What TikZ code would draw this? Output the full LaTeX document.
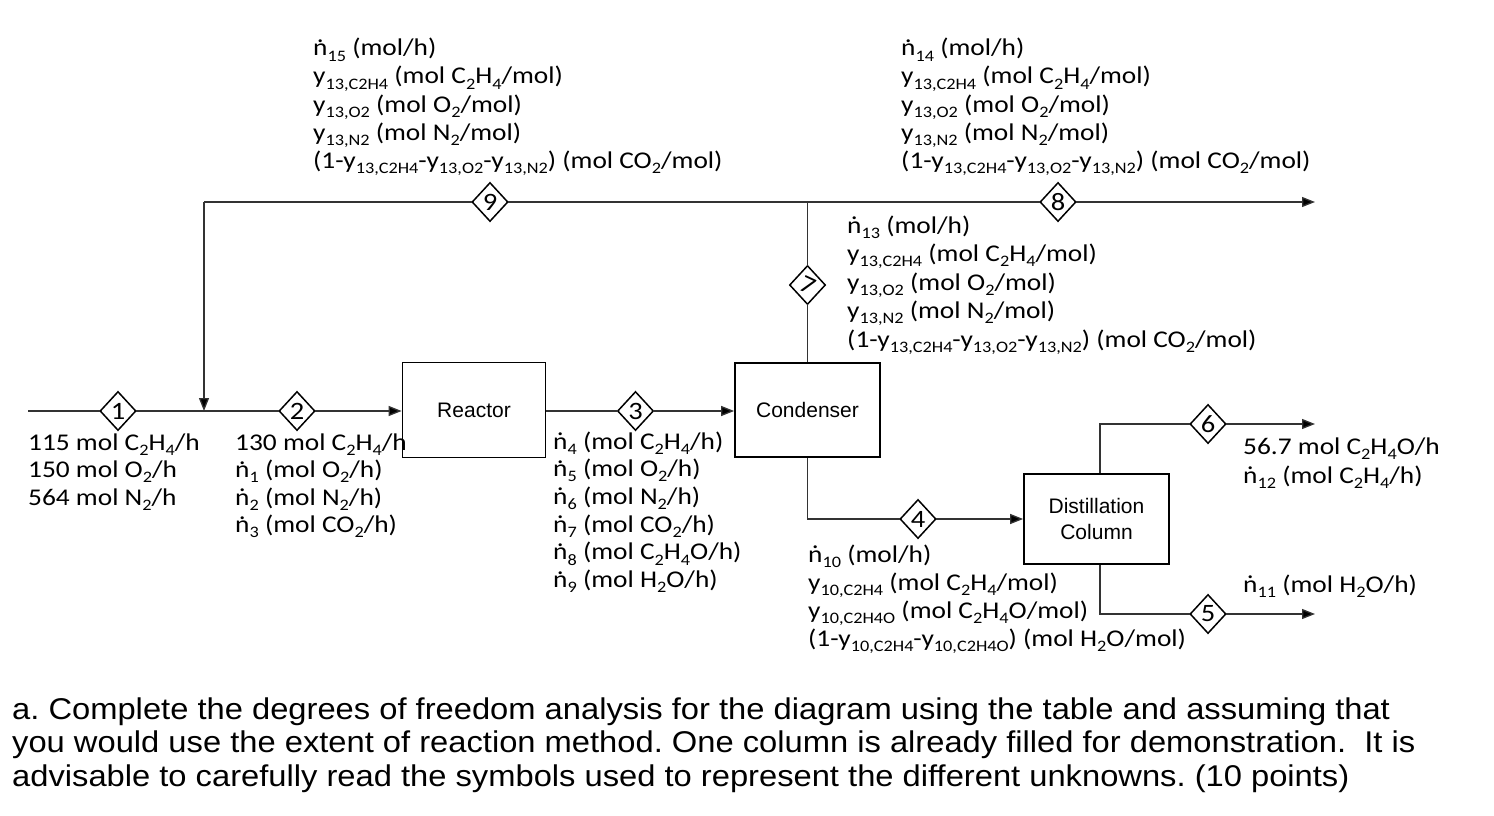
\documentclass[tikz,border=0pt]{standalone}
\usepackage{fontspec}
\setmainfont{Carlito}[FakeStretch=1.14]
\newfontfamily\arialf{Liberation Sans}
\newfontfamily\parf{Liberation Sans}[FakeStretch=1.09]
\usetikzlibrary{arrows.meta}
\newcommand\sub[1]{\raisebox{-0.22em}{\fontsize{16}{16}\selectfont #1}}
\newcommand\nd{\leavevmode\rlap{\hbox to \fontcharwd\font`n{\hss\raisebox{0.56em}{.}\hss}}n}
\newcommand\blk[5]{\foreach \txt [count=\i] in {#5}{\node[lbl] (#1\i) at (#2,{#3+(\i-1)*#4}) {\txt};}}
\newcommand\strnum[3]{%
  \node[snbox] (#1) at (#2) {};
  \draw[snline] (#1.north) -- (#1.east) -- (#1.south) -- (#1.west) -- cycle;
  \node[sntext] (#1t) at (#1) {#3};}
\tikzset{
  lbl/.style={anchor=base west, inner sep=0pt, font=\fontsize{24}{27}\selectfont},
  par/.style={anchor=base west, inner sep=0pt, font=\parf\frenchspacing\fontsize{30}{33}\selectfont},
  flow/.style={draw=black!80, line width=1.3pt},
  arr/.style={flow, -{Triangle[length=13pt,width=10pt,fill=black]}},
  unit/.style={draw=black, line width=1.8pt, fill=white, align=center, inner sep=0pt,
    font=\arialf\fontsize{21}{26}\selectfont},
  snbox/.style={rectangle, inner sep=0pt, minimum width=35pt, minimum height=38pt},
  snline/.style={draw=black, line width=1.5pt, fill=white, line join=miter},
  sntext/.style={inner sep=0pt, font=\fontsize{25}{25}\selectfont}
}
\begin{document}
\begin{tikzpicture}[x=1pt,y=-1pt]
\useasboundingbox[fill=white] (0,0) rectangle (1494,816);

% unit operations
\node[unit, minimum width=143pt, minimum height=95pt] (reactor) at (474,410) {Reactor};
\node[unit, minimum width=145pt, minimum height=94pt] (cond) at (807.5,410) {Condenser};
\node[unit, minimum width=145pt, minimum height=90pt] (dist) at (1096.5,519) {Distillation\\Column};

% coordinates
\coordinate (in1) at (28,411);
\coordinate (j1) at (204,411);
\coordinate (jt1) at (204,202);
\coordinate (jt2) at (807.5,202);
\coordinate (out8) at (1315,202);
\coordinate (cb) at (807.5,519);
\coordinate (dt) at (1100,424);
\coordinate (db) at (1100,614);
\coordinate (out6) at (1315,424);
\coordinate (out5) at (1315,614);

% stream numbers
\strnum{d1}{118,411}{1}
\strnum{d2}{297,411}{2}
\strnum{d3}{635.5,411}{3}
\strnum{d4}{918,519}{4}
\strnum{d5}{1208,614}{5}
\strnum{d6}{1208,424}{6}
\strnum{d7}{807.5,285}{\rotatebox{-25}{7}}
\strnum{d8}{1058,202}{8}
\strnum{d9}{490,202}{9}

% connectors
\draw[flow] (in1) -- (d1);
\draw[flow] (d1) -- (j1);
\draw[arr] (d2) -- (d2 -| reactor.west);
\draw[flow] (j1) -- (d2);
\draw[arr] (jt1) -- (j1);
\draw[flow] (jt1) -- (d9);
\draw[flow] (d9) -- (jt2) -- (d8);
\draw[arr] (d8) -- (out8);
\draw[flow] (cond.north) -- (d7);
\draw[flow] (d7) -- (jt2);
\draw[flow] (reactor.east |- d3) -- (d3);
\draw[arr] (d3) -- (d3 -| cond.west);
\draw[flow] (cond.south) -- (cb) -- (d4);
\draw[arr] (d4) -- (d4 -| dist.west);
\draw[flow] (dt |- dist.north) -- (dt) -- (d6);
\draw[arr] (d6) -- (out6);
\draw[flow] (db |- dist.south) -- (db) -- (d5);
\draw[arr] (d5) -- (out5);

% stream labels
\blk{sa}{28}{450}{27.5}{{115 mol C\sub2H\sub4/h},{150 mol O\sub2/h},{564 mol N\sub2/h}}
\blk{sb}{235}{450}{27.5}{{130 mol C\sub2H\sub4/h},{\nd\sub1 (mol O\sub2/h)},{\nd\sub2 (mol N\sub2/h)},{\nd\sub3 (mol CO\sub2/h)}}
\blk{sc}{553}{449}{27.7}{{\nd\sub4 (mol C\sub2H\sub4/h)},{\nd\sub5 (mol O\sub2/h)},{\nd\sub6 (mol N\sub2/h)},{\nd\sub7 (mol CO\sub2/h)},{\nd\sub8 (mol C\sub2H\sub4O/h)},{\nd\sub9 (mol H\sub2O/h)}}
\blk{sd}{808}{562}{28.2}{{\nd\sub{10} (mol/h)},{y\sub{10,C2H4} (mol C\sub2H\sub4/mol)},{y\sub{10,C2H4O} (mol C\sub2H\sub4O/mol)},{(1-y\sub{10,C2H4}-y\sub{10,C2H4O}) (mol H\sub2O/mol)}}
\blk{se}{1243}{454}{29}{{56.7 mol C\sub2H\sub4O/h},{\nd\sub{12} (mol C\sub2H\sub4/h)}}
\blk{sf}{1243}{592}{28}{{\nd\sub{11} (mol H\sub2O/h)}}
\blk{sg}{847}{233}{28.5}{{\nd\sub{13} (mol/h)},{y\sub{13,C2H4} (mol C\sub2H\sub4/mol)},{y\sub{13,O2} (mol O\sub2/mol)},{y\sub{13,N2} (mol N\sub2/mol)},{(1-y\sub{13,C2H4}-y\sub{13,O2}-y\sub{13,N2}) (mol CO\sub2/mol)}}
\blk{sh}{901}{56}{28}{{\nd\sub{14} (mol/h)},{y\sub{13,C2H4} (mol C\sub2H\sub4/mol)},{y\sub{13,O2} (mol O\sub2/mol)},{y\sub{13,N2} (mol N\sub2/mol)},{(1-y\sub{13,C2H4}-y\sub{13,O2}-y\sub{13,N2}) (mol CO\sub2/mol)}}
\blk{si}{313}{56}{28}{{\nd\sub{15} (mol/h)},{y\sub{13,C2H4} (mol C\sub2H\sub4/mol)},{y\sub{13,O2} (mol O\sub2/mol)},{y\sub{13,N2} (mol N\sub2/mol)},{(1-y\sub{13,C2H4}-y\sub{13,O2}-y\sub{13,N2}) (mol CO\sub2/mol)}}

% question text
\node[par] (q1) at (12,719) {a. Complete the degrees of freedom analysis for the diagram using the table and assuming that};
\node[par] (q2) at (12,752.5) {you would use the extent of reaction method. One column is already filled for demonstration.\ \ It is};
\node[par] (q3) at (12,786) {advisable to carefully read the symbols used to represent the different unknowns. (10 points)};
\end{tikzpicture}
\end{document}
